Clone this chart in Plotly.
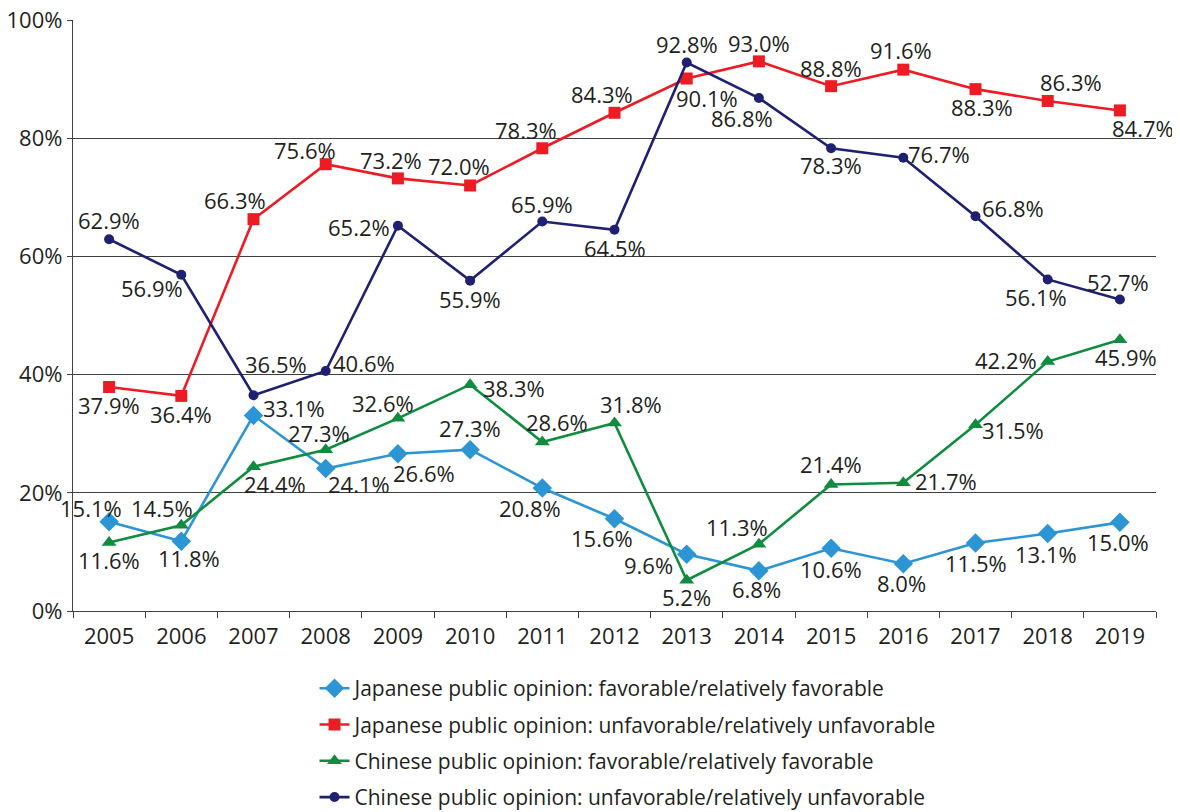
import plotly.graph_objects as go

years = ["2005", "2006", "2007", "2008", "2009", "2010", "2011", "2012",
         "2013", "2014", "2015", "2016", "2017", "2018", "2019"]

jp_fav = [15.1, 11.8, 33.1, 24.1, 26.6, 27.3, 20.8, 15.6, 9.6, 6.8, 10.6, 8.0, 11.5, 13.1, 15.0]
jp_unfav = [37.9, 36.4, 66.3, 75.6, 73.2, 72.0, 78.3, 84.3, 90.1, 93.0, 88.8, 91.6, 88.3, 86.3, 84.7]
cn_fav = [11.6, 14.5, 24.4, 27.3, 32.6, 38.3, 28.6, 31.8, 5.2, 11.3, 21.4, 21.7, 31.5, 42.2, 45.9]
cn_unfav = [62.9, 56.9, 36.5, 40.6, 65.2, 55.9, 65.9, 64.5, 92.8, 86.8, 78.3, 76.7, 66.8, 56.1, 52.7]

names = [
    "Japanese public opinion: favorable/relatively favorable",
    "Japanese public opinion: unfavorable/relatively unfavorable",
    "Chinese public opinion: favorable/relatively favorable",
    "Chinese public opinion: unfavorable/relatively unfavorable",
]

y_ticks = [0, 20, 40, 60, 80, 100]
y_tick_text = ["0%", "20%", "40%", "60%", "80%", "100%"]

# label offsets in pixels (style only)
jp_fav_dx = [-18, 8, 40, 33, 26, 0, -12, -13, -38, -2, 0, -2, 0, -2, -2]
jp_fav_dy = [14, -17, 7, -15, -19, 22, -20, -19, -11, -18, -21, -19, -20, -20, -20]
jp_unfav_dx = [0, 0, -19, -21, -7, -11, -16, -13, 20, 0, 0, -2, 6, 23, 23]
jp_unfav_dy = [-18, -18, 19, 14, 18, 19, 18, 19, -19, 18, 18, 20, -18, 19, -18]
cn_fav_dx = [0, -19, 21, -7, -15, 44, 15, 16, 0, -22, 0, 43, 37, -42, 6]
cn_fav_dy = [-18, 17, -17, 17, 15, -3, 20, 19, -17, 17, 21, 2, -5, 2, -17]
cn_unfav_dx = [0, -29, 22, 38, -39, 0, 0, 0, 0, -17, 0, 36, 37, -12, -2]
cn_unfav_dy = [19, -13, 31, 8, -1, -18, 18, -18, 19, -20, -17, 4, 8, -18, 18]

colors = ["#2C95D3", "#ED1C24", "#0F8C3F", "#1F2170"]
symbols = ["diamond", "square", "triangle-up", "circle"]
msizes = [15, 12, 13, 10]

series = [jp_fav, jp_unfav, cn_fav, cn_unfav]
dxs = [jp_fav_dx, jp_unfav_dx, cn_fav_dx, cn_unfav_dx]
dys = [jp_fav_dy, jp_unfav_dy, cn_fav_dy, cn_unfav_dy]

FONT = "Open Sans"
TXT = "#231F20"
FS = 22

fig = go.Figure()
for i, vals in enumerate(series):
    fig.add_trace(go.Scatter(
        x=years, y=vals, name=names[i], mode="lines+markers",
        legendgroup=f"g{i}",
        line=dict(color=colors[i], width=2.6),
        marker=dict(color=colors[i], symbol=symbols[i], size=msizes[i]),
    ))

annotations = []
for i, vals in enumerate(series):
    for j, v in enumerate(vals):
        annotations.append(dict(
            x=j, y=v, xref="x", yref="y", text=f"{v:.1f}%",
            showarrow=False, xshift=dxs[i][j], yshift=dys[i][j],
            font=dict(family=FONT, size=FS, color=TXT),
        ))

# the page body has an 8px default margin, so the figure is offset by 8px
fig.update_layout(
    width=1172, height=812,
    margin=dict(l=65, r=24, t=12, b=209, autoexpand=False),
    paper_bgcolor="white", plot_bgcolor="white",
    font=dict(family=FONT, size=FS, color=TXT),
    annotations=annotations,
    showlegend=True,
    legend=dict(
        x=0.223, y=-0.0965, xanchor="left", yanchor="top",
        orientation="v", tracegroupgap=6,
        font=dict(family=FONT, size=21, color=TXT),
        bgcolor="rgba(0,0,0,0)",
    ),
    xaxis=dict(
        type="category", categoryorder="array", categoryarray=years,
        range=[-0.5, len(years) - 0.5], autorange=False, automargin=False,
        showgrid=False, showline=True, linecolor="#404040",
        linewidth=1.3, ticks="outside", tickson="boundaries", ticklen=6,
        tickcolor="#404040", tickfont=dict(family=FONT, size=FS, color=TXT),
        tickangle=0, zeroline=False, ticklabelstandoff=5,
        ticklabeloverflow="allow",
    ),
    yaxis=dict(
        range=[0, 100], autorange=False, automargin=False,
        tickvals=y_ticks, ticktext=y_tick_text,
        showgrid=True, gridcolor="#404040", gridwidth=1.2,
        showline=True, linecolor="#404040", linewidth=1.3,
        ticks="outside", ticklen=5, tickcolor="#404040",
        tickfont=dict(family=FONT, size=FS, color=TXT), zeroline=False,
        ticklabeloverflow="allow",
    ),
)

fig.write_html("out.html")
